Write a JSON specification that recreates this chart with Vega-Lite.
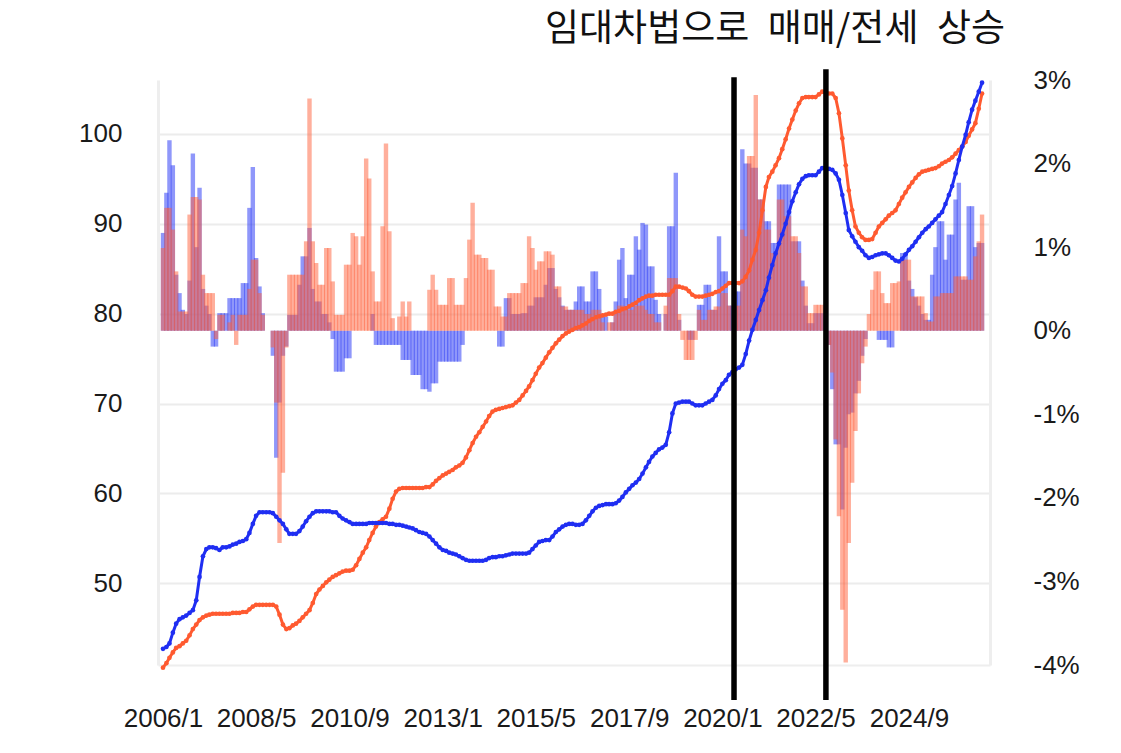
{
  "$schema": "https://vega.github.io/schema/vega-lite/v6.json",
  "width": 832,
  "height": 585,
  "autosize": {"type": "none"},
  "padding": {"left": 158, "top": 80, "right": 131, "bottom": 88},
  "background": "white",
  "title": {
    "text": "임대차법으로\u2002매매/전세\u2002상승",
    "anchor": "end",
    "frame": "group",
    "font": "Noto Sans CJK KR",
    "fontSize": 37,
    "fontWeight": "normal",
    "color": "#111111",
    "baseline": "alphabetic",
    "offset": -12,
    "dx": 15
  },
  "config": {
    "view": {"stroke": null},
    "axis": {
      "labelFont": "Liberation Sans",
      "labelFontSize": 26,
      "labelColor": "#1a1a1a",
      "ticks": false,
      "title": null
    }
  },
  "data": {
    "format": {"parse": {"d": "utc:'%Y-%m'"}},
    "values": [
      {"d":"2006-01","s":42.7,"j":40.6,"sp":1.17,"jp":0.99},
      {"d":"2006-02","s":42.9,"j":41.1,"sp":1.65,"jp":1.47},
      {"d":"2006-03","s":43.3,"j":41.7,"sp":2.28,"jp":1.47},
      {"d":"2006-04","s":44.5,"j":42.3,"sp":1.98,"jp":1.21},
      {"d":"2006-05","s":45.5,"j":42.8,"sp":0.67,"jp":0.71},
      {"d":"2006-06","s":46.0,"j":43.0,"sp":0.45,"jp":0.23},
      {"d":"2006-07","s":46.2,"j":43.3,"sp":0.25,"jp":0.23},
      {"d":"2006-08","s":46.4,"j":43.6,"sp":0.2,"jp":0.23},
      {"d":"2006-09","s":46.7,"j":44.2,"sp":0.6,"jp":1.39},
      {"d":"2006-10","s":47.0,"j":44.9,"sp":2.12,"jp":1.6},
      {"d":"2006-11","s":48.1,"j":45.4,"sp":1.0,"jp":1.6},
      {"d":"2006-12","s":50.7,"j":45.9,"sp":1.71,"jp":1.57},
      {"d":"2007-01","s":53.0,"j":46.2,"sp":0.5,"jp":0.67},
      {"d":"2007-02","s":53.8,"j":46.4,"sp":0.3,"jp":0.45},
      {"d":"2007-03","s":54.0,"j":46.5,"sp":0.2,"jp":0.45},
      {"d":"2007-04","s":54.0,"j":46.6,"sp":-0.19,"jp":0.45},
      {"d":"2007-05","s":53.9,"j":46.6,"sp":-0.19,"jp":-0.1},
      {"d":"2007-06","s":53.7,"j":46.6,"sp":0.21,"jp":0.19},
      {"d":"2007-07","s":54.0,"j":46.6,"sp":0.21,"jp":0.19},
      {"d":"2007-08","s":54.0,"j":46.6,"sp":0.21,"jp":0},
      {"d":"2007-09","s":54.1,"j":46.6,"sp":0.39,"jp":0.1},
      {"d":"2007-10","s":54.3,"j":46.7,"sp":0.39,"jp":0.19},
      {"d":"2007-11","s":54.4,"j":46.7,"sp":0.39,"jp":-0.17},
      {"d":"2007-12","s":54.6,"j":46.7,"sp":0.39,"jp":0.19},
      {"d":"2008-01","s":54.7,"j":46.8,"sp":0.57,"jp":0.19},
      {"d":"2008-02","s":54.9,"j":46.8,"sp":0.57,"jp":0.19},
      {"d":"2008-03","s":55.6,"j":47.1,"sp":1.47,"jp":0.5},
      {"d":"2008-04","s":56.6,"j":47.4,"sp":1.96,"jp":0.85},
      {"d":"2008-05","s":57.5,"j":47.6,"sp":0.87,"jp":0.85},
      {"d":"2008-06","s":57.9,"j":47.6,"sp":0.53,"jp":0.45},
      {"d":"2008-07","s":57.9,"j":47.6,"sp":0.21,"jp":0.19},
      {"d":"2008-08","s":57.9,"j":47.6,"sp":0,"jp":0},
      {"d":"2008-09","s":57.9,"j":47.6,"sp":0,"jp":0},
      {"d":"2008-10","s":57.8,"j":47.6,"sp":-0.3,"jp":-0.2},
      {"d":"2008-11","s":57.4,"j":47.4,"sp":-1.52,"jp":-0.86},
      {"d":"2008-12","s":57.0,"j":46.5,"sp":-0.86,"jp":-2.54},
      {"d":"2009-01","s":56.6,"j":45.4,"sp":-0.3,"jp":-1.7},
      {"d":"2009-02","s":56.0,"j":44.9,"sp":-0.19,"jp":-0.2},
      {"d":"2009-03","s":55.5,"j":45.0,"sp":0.19,"jp":0.67},
      {"d":"2009-04","s":55.5,"j":45.3,"sp":0.19,"jp":0.67},
      {"d":"2009-05","s":55.5,"j":45.5,"sp":0.19,"jp":0.67},
      {"d":"2009-06","s":55.8,"j":45.8,"sp":0.55,"jp":0.67},
      {"d":"2009-07","s":56.3,"j":46.2,"sp":0.89,"jp":0.67},
      {"d":"2009-08","s":56.9,"j":46.6,"sp":0.89,"jp":1.07},
      {"d":"2009-09","s":57.4,"j":47.0,"sp":1.23,"jp":2.78},
      {"d":"2009-10","s":57.8,"j":47.8,"sp":0.5,"jp":1.07},
      {"d":"2009-11","s":58.0,"j":48.8,"sp":0.35,"jp":0.81},
      {"d":"2009-12","s":58.0,"j":49.3,"sp":0.35,"jp":0.55},
      {"d":"2010-01","s":58.0,"j":49.7,"sp":0.2,"jp":0.55},
      {"d":"2010-02","s":58.0,"j":50.1,"sp":0.2,"jp":0.99},
      {"d":"2010-03","s":58.0,"j":50.4,"sp":0.1,"jp":0.99},
      {"d":"2010-04","s":57.9,"j":50.7,"sp":-0.1,"jp":0.59},
      {"d":"2010-05","s":57.9,"j":50.9,"sp":-0.49,"jp":0.19},
      {"d":"2010-06","s":57.5,"j":51.1,"sp":-0.49,"jp":0.19},
      {"d":"2010-07","s":57.2,"j":51.3,"sp":-0.49,"jp":0.19},
      {"d":"2010-08","s":57.0,"j":51.4,"sp":-0.33,"jp":0.79},
      {"d":"2010-09","s":56.8,"j":51.4,"sp":-0.33,"jp":0.79},
      {"d":"2010-10","s":56.6,"j":51.5,"sp":0,"jp":1.17},
      {"d":"2010-11","s":56.6,"j":52.0,"sp":0,"jp":1.13},
      {"d":"2010-12","s":56.6,"j":52.7,"sp":0,"jp":0.79},
      {"d":"2011-01","s":56.6,"j":53.4,"sp":0,"jp":1.13},
      {"d":"2011-02","s":56.6,"j":54.0,"sp":0,"jp":2.06},
      {"d":"2011-03","s":56.7,"j":54.8,"sp":0,"jp":1.82},
      {"d":"2011-04","s":56.7,"j":55.6,"sp":0.2,"jp":0.71},
      {"d":"2011-05","s":56.7,"j":56.3,"sp":-0.17,"jp":0.35},
      {"d":"2011-06","s":56.7,"j":56.8,"sp":-0.17,"jp":0.35},
      {"d":"2011-07","s":56.7,"j":57.1,"sp":-0.17,"jp":1.25},
      {"d":"2011-08","s":56.7,"j":57.4,"sp":-0.17,"jp":2.24},
      {"d":"2011-09","s":56.6,"j":58.3,"sp":-0.17,"jp":1.19},
      {"d":"2011-10","s":56.6,"j":59.4,"sp":-0.17,"jp":0.15},
      {"d":"2011-11","s":56.5,"j":60.2,"sp":-0.17,"jp":0},
      {"d":"2011-12","s":56.5,"j":60.5,"sp":-0.17,"jp":0.17},
      {"d":"2012-01","s":56.4,"j":60.6,"sp":-0.35,"jp":0.35},
      {"d":"2012-02","s":56.3,"j":60.6,"sp":-0.35,"jp":0.17},
      {"d":"2012-03","s":56.2,"j":60.6,"sp":-0.35,"jp":0.35},
      {"d":"2012-04","s":56.1,"j":60.6,"sp":-0.53,"jp":0},
      {"d":"2012-05","s":55.9,"j":60.6,"sp":-0.53,"jp":0},
      {"d":"2012-06","s":55.7,"j":60.6,"sp":-0.53,"jp":0},
      {"d":"2012-07","s":55.6,"j":60.6,"sp":-0.7,"jp":0},
      {"d":"2012-08","s":55.5,"j":60.7,"sp":-0.7,"jp":0},
      {"d":"2012-09","s":55.2,"j":60.7,"sp":-0.73,"jp":0.49},
      {"d":"2012-10","s":54.8,"j":61.0,"sp":-0.63,"jp":0.67},
      {"d":"2012-11","s":54.4,"j":61.4,"sp":-0.63,"jp":0.49},
      {"d":"2012-12","s":54.0,"j":61.7,"sp":-0.37,"jp":0.31},
      {"d":"2013-01","s":53.7,"j":62.0,"sp":-0.37,"jp":0.31},
      {"d":"2013-02","s":53.6,"j":62.2,"sp":-0.37,"jp":0.31},
      {"d":"2013-03","s":53.4,"j":62.4,"sp":-0.37,"jp":0.63},
      {"d":"2013-04","s":53.3,"j":62.6,"sp":-0.37,"jp":0.63},
      {"d":"2013-05","s":53.2,"j":62.9,"sp":-0.37,"jp":0.31},
      {"d":"2013-06","s":53.0,"j":63.1,"sp":-0.37,"jp":0.31},
      {"d":"2013-07","s":52.8,"j":63.4,"sp":-0.17,"jp":0.31},
      {"d":"2013-08","s":52.6,"j":64.0,"sp":0,"jp":0.63},
      {"d":"2013-09","s":52.5,"j":64.8,"sp":0,"jp":1.09},
      {"d":"2013-10","s":52.5,"j":65.6,"sp":0,"jp":1.53},
      {"d":"2013-11","s":52.5,"j":66.3,"sp":0,"jp":0.91},
      {"d":"2013-12","s":52.5,"j":66.8,"sp":0,"jp":0.91},
      {"d":"2014-01","s":52.5,"j":67.4,"sp":0,"jp":0.87},
      {"d":"2014-02","s":52.6,"j":68.0,"sp":0,"jp":0.87},
      {"d":"2014-03","s":52.8,"j":68.6,"sp":0,"jp":0.73},
      {"d":"2014-04","s":52.9,"j":69.1,"sp":0,"jp":0.73},
      {"d":"2014-05","s":52.9,"j":69.3,"sp":0,"jp":0.29},
      {"d":"2014-06","s":53.0,"j":69.4,"sp":-0.19,"jp":0.29},
      {"d":"2014-07","s":53.0,"j":69.5,"sp":-0.19,"jp":0.17},
      {"d":"2014-08","s":53.1,"j":69.6,"sp":0.39,"jp":0.17},
      {"d":"2014-09","s":53.2,"j":69.7,"sp":0.39,"jp":0.45},
      {"d":"2014-10","s":53.3,"j":69.8,"sp":0.2,"jp":0.45},
      {"d":"2014-11","s":53.3,"j":70.1,"sp":0.2,"jp":0.45},
      {"d":"2014-12","s":53.3,"j":70.4,"sp":0.2,"jp":0.45},
      {"d":"2015-01","s":53.3,"j":70.9,"sp":0.21,"jp":0.57},
      {"d":"2015-02","s":53.3,"j":71.4,"sp":0.21,"jp":0.57},
      {"d":"2015-03","s":53.4,"j":71.9,"sp":0.3,"jp":1.13},
      {"d":"2015-04","s":53.8,"j":72.6,"sp":0.3,"jp":0.99},
      {"d":"2015-05","s":54.2,"j":73.3,"sp":0.4,"jp":0.73},
      {"d":"2015-06","s":54.6,"j":74.0,"sp":0.4,"jp":0.83},
      {"d":"2015-07","s":54.7,"j":74.5,"sp":0.4,"jp":0.83},
      {"d":"2015-08","s":54.8,"j":75.1,"sp":0.55,"jp":0.95},
      {"d":"2015-09","s":54.8,"j":75.7,"sp":0.75,"jp":0.95},
      {"d":"2015-10","s":55.2,"j":76.2,"sp":0.75,"jp":0.91},
      {"d":"2015-11","s":55.7,"j":76.7,"sp":0.5,"jp":0.53},
      {"d":"2015-12","s":56.0,"j":77.1,"sp":0.4,"jp":0.53},
      {"d":"2016-01","s":56.3,"j":77.5,"sp":0.3,"jp":0.29},
      {"d":"2016-02","s":56.5,"j":77.8,"sp":0.25,"jp":0.29},
      {"d":"2016-03","s":56.6,"j":78.0,"sp":0.25,"jp":0.25},
      {"d":"2016-04","s":56.6,"j":78.2,"sp":0.25,"jp":0.25},
      {"d":"2016-05","s":56.5,"j":78.4,"sp":0.35,"jp":0.25},
      {"d":"2016-06","s":56.5,"j":78.5,"sp":0.53,"jp":0.25},
      {"d":"2016-07","s":56.6,"j":78.7,"sp":0.53,"jp":0.25},
      {"d":"2016-08","s":57.0,"j":78.9,"sp":0.35,"jp":0.2},
      {"d":"2016-09","s":57.5,"j":79.2,"sp":0.35,"jp":0.2},
      {"d":"2016-10","s":58.0,"j":79.4,"sp":0.71,"jp":0.25},
      {"d":"2016-11","s":58.4,"j":79.6,"sp":0.71,"jp":0.25},
      {"d":"2016-12","s":58.6,"j":79.7,"sp":0.5,"jp":0.25},
      {"d":"2017-01","s":58.7,"j":79.8,"sp":0.17,"jp":0.1},
      {"d":"2017-02","s":58.8,"j":79.9,"sp":0.17,"jp":0},
      {"d":"2017-03","s":58.8,"j":80.0,"sp":0,"jp":0.1},
      {"d":"2017-04","s":58.8,"j":80.0,"sp":0.1,"jp":0.1},
      {"d":"2017-05","s":58.9,"j":80.2,"sp":0.35,"jp":0.2},
      {"d":"2017-06","s":59.2,"j":80.3,"sp":0.85,"jp":0.3},
      {"d":"2017-07","s":59.6,"j":80.5,"sp":0.99,"jp":0.3},
      {"d":"2017-08","s":60.1,"j":80.6,"sp":0.39,"jp":0.25},
      {"d":"2017-09","s":60.5,"j":80.8,"sp":0.67,"jp":0.25},
      {"d":"2017-10","s":60.9,"j":81.0,"sp":0.67,"jp":0.25},
      {"d":"2017-11","s":61.2,"j":81.2,"sp":1.13,"jp":0.3},
      {"d":"2017-12","s":61.6,"j":81.5,"sp":0.97,"jp":0.3},
      {"d":"2018-01","s":62.2,"j":81.7,"sp":1.29,"jp":0.3},
      {"d":"2018-02","s":62.9,"j":81.9,"sp":1.27,"jp":0.25},
      {"d":"2018-03","s":63.5,"j":82.0,"sp":0.77,"jp":0.2},
      {"d":"2018-04","s":64.1,"j":82.0,"sp":0.77,"jp":0.2},
      {"d":"2018-05","s":64.5,"j":82.1,"sp":0.37,"jp":0.1},
      {"d":"2018-06","s":64.9,"j":82.1,"sp":0.2,"jp":0.1},
      {"d":"2018-07","s":65.1,"j":82.1,"sp":0,"jp":0},
      {"d":"2018-08","s":65.4,"j":82.1,"sp":0.2,"jp":0.3},
      {"d":"2018-09","s":66.8,"j":82.1,"sp":1.25,"jp":0.63},
      {"d":"2018-10","s":68.9,"j":82.5,"sp":1.25,"jp":0.63},
      {"d":"2018-11","s":70.0,"j":83.0,"sp":1.89,"jp":0.63},
      {"d":"2018-12","s":70.1,"j":83.0,"sp":0.13,"jp":0.2},
      {"d":"2019-01","s":70.2,"j":82.9,"sp":0,"jp":-0.11},
      {"d":"2019-02","s":70.2,"j":82.8,"sp":0,"jp":-0.35},
      {"d":"2019-03","s":70.2,"j":82.5,"sp":-0.11,"jp":-0.35},
      {"d":"2019-04","s":70.0,"j":82.1,"sp":-0.11,"jp":-0.35},
      {"d":"2019-05","s":69.8,"j":81.9,"sp":0,"jp":-0.11},
      {"d":"2019-06","s":69.8,"j":81.9,"sp":0.31,"jp":0.25},
      {"d":"2019-07","s":69.8,"j":81.9,"sp":0.31,"jp":0.13},
      {"d":"2019-08","s":70.0,"j":82.0,"sp":0.55,"jp":0.13},
      {"d":"2019-09","s":70.2,"j":82.1,"sp":0.55,"jp":0.25},
      {"d":"2019-10","s":70.4,"j":82.2,"sp":0.25,"jp":0.25},
      {"d":"2019-11","s":70.9,"j":82.4,"sp":0.25,"jp":0.29},
      {"d":"2019-12","s":71.6,"j":82.5,"sp":1.13,"jp":0.29},
      {"d":"2020-01","s":72.2,"j":82.8,"sp":0.71,"jp":0.45},
      {"d":"2020-02","s":72.6,"j":83.1,"sp":0.71,"jp":0.45},
      {"d":"2020-03","s":73.2,"j":83.4,"sp":0.3,"jp":0.3},
      {"d":"2020-04","s":73.5,"j":83.4,"sp":0.3,"jp":0},
      {"d":"2020-05","s":73.8,"j":83.4,"sp":0.47,"jp":0.3},
      {"d":"2020-06","s":74.0,"j":83.4,"sp":0.47,"jp":0.3},
      {"d":"2020-07","s":74.3,"j":83.6,"sp":2.17,"jp":1.21},
      {"d":"2020-08","s":75.5,"j":84.1,"sp":2.0,"jp":1.13},
      {"d":"2020-09","s":77.0,"j":84.8,"sp":2.0,"jp":2.09},
      {"d":"2020-10","s":78.2,"j":86.0,"sp":1.95,"jp":2.09},
      {"d":"2020-11","s":79.3,"j":87.1,"sp":1.95,"jp":2.82},
      {"d":"2020-12","s":80.4,"j":89.0,"sp":1.57,"jp":1.57},
      {"d":"2021-01","s":81.5,"j":91.5,"sp":1.57,"jp":1.57},
      {"d":"2021-02","s":82.6,"j":94.1,"sp":1.31,"jp":1.21},
      {"d":"2021-03","s":84.0,"j":95.2,"sp":1.31,"jp":1.21},
      {"d":"2021-04","s":85.4,"j":95.8,"sp":1.05,"jp":0.93},
      {"d":"2021-05","s":86.7,"j":96.5,"sp":1.05,"jp":0.93},
      {"d":"2021-06","s":87.8,"j":97.3,"sp":1.75,"jp":1.57},
      {"d":"2021-07","s":88.8,"j":98.3,"sp":1.75,"jp":1.57},
      {"d":"2021-08","s":90.0,"j":99.4,"sp":1.75,"jp":1.37},
      {"d":"2021-09","s":91.3,"j":100.6,"sp":1.75,"jp":1.37},
      {"d":"2021-10","s":92.5,"j":101.6,"sp":1.07,"jp":1.13},
      {"d":"2021-11","s":93.5,"j":102.6,"sp":1.07,"jp":1.13},
      {"d":"2021-12","s":94.4,"j":103.4,"sp":1.07,"jp":0.93},
      {"d":"2022-01","s":95.0,"j":104.0,"sp":0.6,"jp":0.53},
      {"d":"2022-02","s":95.3,"j":104.1,"sp":0.3,"jp":0.53},
      {"d":"2022-03","s":95.4,"j":104.1,"sp":0.09,"jp":0.21},
      {"d":"2022-04","s":95.4,"j":104.1,"sp":0.09,"jp":0.21},
      {"d":"2022-05","s":95.4,"j":104.1,"sp":0.21,"jp":0.31},
      {"d":"2022-06","s":95.8,"j":104.4,"sp":0.21,"jp":0.31},
      {"d":"2022-07","s":96.2,"j":104.7,"sp":0.21,"jp":0.31},
      {"d":"2022-08","s":96.2,"j":104.6,"sp":0,"jp":0},
      {"d":"2022-09","s":96.1,"j":104.5,"sp":-0.17,"jp":-0.17},
      {"d":"2022-10","s":96.0,"j":104.5,"sp":-0.7,"jp":-0.5},
      {"d":"2022-11","s":95.6,"j":104.0,"sp":-1.36,"jp":-1.3},
      {"d":"2022-12","s":94.9,"j":102.3,"sp":-1.36,"jp":-2.22},
      {"d":"2023-01","s":93.2,"j":99.5,"sp":-2.14,"jp":-3.34},
      {"d":"2023-02","s":91.2,"j":96.5,"sp":-1.4,"jp":-3.97},
      {"d":"2023-03","s":89.3,"j":93.7,"sp":-1.0,"jp":-2.54},
      {"d":"2023-04","s":88.6,"j":91.5,"sp":-0.98,"jp":-1.82},
      {"d":"2023-05","s":88.0,"j":89.7,"sp":-0.75,"jp":-1.2},
      {"d":"2023-06","s":87.4,"j":89.0,"sp":-0.6,"jp":-0.75},
      {"d":"2023-07","s":87.0,"j":88.5,"sp":-0.3,"jp":-0.39},
      {"d":"2023-08","s":86.5,"j":88.2,"sp":-0.1,"jp":-0.19},
      {"d":"2023-09","s":86.2,"j":88.2,"sp":0,"jp":0.2},
      {"d":"2023-10","s":86.3,"j":88.3,"sp":0,"jp":0.49},
      {"d":"2023-11","s":86.5,"j":89.0,"sp":0,"jp":0.71},
      {"d":"2023-12","s":86.6,"j":89.7,"sp":-0.11,"jp":0.71},
      {"d":"2024-01","s":86.7,"j":90.1,"sp":-0.11,"jp":0.45},
      {"d":"2024-02","s":86.7,"j":90.5,"sp":-0.11,"jp":0.33},
      {"d":"2024-03","s":86.5,"j":90.9,"sp":-0.2,"jp":0.33},
      {"d":"2024-04","s":86.2,"j":91.2,"sp":-0.2,"jp":0.57},
      {"d":"2024-05","s":85.9,"j":91.5,"sp":0,"jp":0.57},
      {"d":"2024-06","s":85.8,"j":92.2,"sp":0,"jp":0.59},
      {"d":"2024-07","s":86.1,"j":92.9,"sp":0.93,"jp":0.85},
      {"d":"2024-08","s":86.6,"j":93.5,"sp":0.93,"jp":0.85},
      {"d":"2024-09","s":87.1,"j":94.1,"sp":0.6,"jp":0.85},
      {"d":"2024-10","s":87.5,"j":94.6,"sp":0.5,"jp":0.41},
      {"d":"2024-11","s":88.0,"j":95.1,"sp":0.4,"jp":0.41},
      {"d":"2024-12","s":88.5,"j":95.5,"sp":0.3,"jp":0.41},
      {"d":"2025-01","s":89.0,"j":95.8,"sp":0.2,"jp":0.41},
      {"d":"2025-02","s":89.4,"j":95.9,"sp":0.13,"jp":0.21},
      {"d":"2025-03","s":89.7,"j":96.0,"sp":0.13,"jp":0.11},
      {"d":"2025-04","s":90.1,"j":96.1,"sp":0.67,"jp":0.11},
      {"d":"2025-05","s":90.5,"j":96.2,"sp":1.0,"jp":0.41},
      {"d":"2025-06","s":90.9,"j":96.4,"sp":1.31,"jp":0.41},
      {"d":"2025-07","s":91.3,"j":96.7,"sp":1.31,"jp":0.45},
      {"d":"2025-08","s":92.2,"j":96.9,"sp":0.85,"jp":0.45},
      {"d":"2025-09","s":93.2,"j":97.1,"sp":1.15,"jp":0.45},
      {"d":"2025-10","s":94.2,"j":97.4,"sp":1.15,"jp":0.45},
      {"d":"2025-11","s":95.6,"j":97.8,"sp":1.57,"jp":0.65},
      {"d":"2025-12","s":97.1,"j":98.2,"sp":1.77,"jp":0.65},
      {"d":"2026-01","s":98.6,"j":98.6,"sp":0.61,"jp":0.65},
      {"d":"2026-02","s":99.9,"j":99.1,"sp":0.61,"jp":0.65},
      {"d":"2026-03","s":101.3,"j":99.8,"sp":1.49,"jp":0.61},
      {"d":"2026-04","s":102.7,"j":100.5,"sp":1.49,"jp":0.61},
      {"d":"2026-05","s":103.7,"j":101.2,"sp":1.0,"jp":0.89},
      {"d":"2026-06","s":104.7,"j":102.8,"sp":1.05,"jp":1.07},
      {"d":"2026-07","s":105.7,"j":104.5,"sp":1.05,"jp":1.39}
    ]
  },
  "encoding": {
    "x": {
      "field": "d",
      "type": "temporal",
      "scale": {
        "type": "utc",
        "domain": [
          {"year": 2006, "month": 1, "date": 1, "utc": true},
          {"year": 2026, "month": 7, "date": 28, "utc": true}
        ]
      },
      "axis": {
        "values": [
          {"year": 2006, "month": 1, "date": 1, "utc": true},
          {"year": 2008, "month": 5, "date": 1, "utc": true},
          {"year": 2010, "month": 9, "date": 1, "utc": true},
          {"year": 2013, "month": 1, "date": 1, "utc": true},
          {"year": 2015, "month": 5, "date": 1, "utc": true},
          {"year": 2017, "month": 9, "date": 1, "utc": true},
          {"year": 2020, "month": 1, "date": 1, "utc": true},
          {"year": 2022, "month": 5, "date": 1, "utc": true},
          {"year": 2024, "month": 9, "date": 1, "utc": true}
        ],
        "format": "%Y/%-m",
        "grid": false,
        "domainColor": "#eeeeee",
        "domainWidth": 2,
        "labelPadding": 40,
        "labelFlush": false,
        "labelOverlap": false
      }
    }
  },
  "layer": [
    {
      "layer": [
        {
          "mark": {"type": "bar", "width": 4.4, "color": "#3342f5", "opacity": 0.55},
          "encoding": {
            "y": {
              "field": "sp",
              "type": "quantitative",
              "scale": {"domain": [-4, 3], "nice": false},
              "axis": {
                "orient": "right",
                "values": [-4, -3, -2, -1, 0, 1, 2, 3],
                "labelExpr": "datum.value + '%'",
                "grid": false,
                "domainColor": "#eeeeee",
                "domainWidth": 3,
                "labelAlign": "left",
                "labelPadding": 43
              }
            }
          }
        },
        {
          "mark": {"type": "bar", "width": 4.4, "color": "#ff5f3a", "opacity": 0.5},
          "encoding": {
            "y": {
              "field": "jp",
              "type": "quantitative",
              "scale": {"domain": [-4, 3], "nice": false},
              "axis": {
                "orient": "right",
                "values": [-4, -3, -2, -1, 0, 1, 2, 3],
                "labelExpr": "datum.value + '%'",
                "grid": false,
                "domainColor": "#eeeeee",
                "domainWidth": 3,
                "labelAlign": "left",
                "labelPadding": 43
              }
            }
          }
        }
      ]
    },
    {
      "layer": [
        {
          "mark": {
            "type": "line",
            "color": "#ff5a30",
            "strokeWidth": 3,
            "point": {"filled": true, "size": 22, "color": "#ff5a30"}
          },
          "encoding": {
            "y": {
              "field": "j",
              "type": "quantitative",
              "scale": {"domain": [40.9, 106], "nice": false, "zero": false},
              "axis": {
                "orient": "left",
                "values": [50, 60, 70, 80, 90, 100],
                "grid": true,
                "gridColor": "#ececec",
                "gridWidth": 2,
                "domainColor": "#eeeeee",
                "domainWidth": 3,
                "labelPadding": 36
              }
            }
          }
        },
        {
          "mark": {
            "type": "line",
            "color": "#1f2ef2",
            "strokeWidth": 3,
            "point": {"filled": true, "size": 22, "color": "#1f2ef2"}
          },
          "encoding": {
            "y": {"field": "s", "type": "quantitative"}
          }
        },
        {
          "data": {
            "format": {"parse": {"d": "utc:'%Y-%m-%d'"}},
            "values": [
              {"d": "2020-04-16", "top": 106.3, "bot": 37.0},
              {"d": "2022-08-04", "top": 107.2, "bot": 37.0}
            ]
          },
          "mark": {"type": "rule", "color": "#000000", "strokeWidth": 5.5, "clip": false},
          "encoding": {
            "y": {"field": "top", "type": "quantitative"},
            "y2": {"field": "bot"}
          }
        }
      ]
    }
  ],
  "resolve": {"scale": {"y": "independent"}}
}
